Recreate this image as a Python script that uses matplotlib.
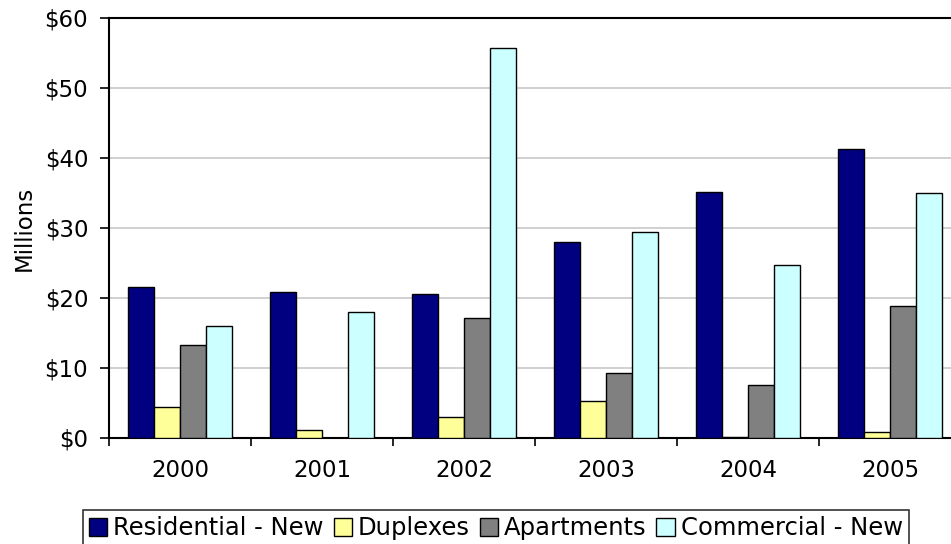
import matplotlib.pyplot as plt
import numpy as np

years = ['2000', '2001', '2002', '2003', '2004', '2005']
residential = [21.6, 20.9, 20.6, 28.0, 35.1, 41.3]
duplexes = [4.4, 1.1, 3.0, 5.3, 0.1, 0.8]
apartments = [13.3, 0.0, 17.1, 9.3, 7.6, 18.9]
commercial = [16.0, 18.0, 55.7, 29.4, 24.7, 35.0]

series = [
    ('Residential - New', residential, '#000080'),
    ('Duplexes', duplexes, '#FFFF99'),
    ('Apartments', apartments, '#808080'),
    ('Commercial - New', commercial, '#CCFFFF'),
]

plt.rcParams['font.family'] = ['DejaVu Sans']
fs = 16.5

fig = plt.figure(figsize=(9.51, 5.44), dpi=100)
# axes run slightly past the right edge, like the cropped original
ax = fig.add_axes([109 / 951, (544 - 438) / 544, (961 - 109) / 951, 420 / 544])

x = np.arange(len(years))
w = 0.183
for i, (name, vals, col) in enumerate(series):
    ax.bar(x + (i - 1.5) * w, vals, w, color=col, edgecolor='black',
           linewidth=1.0, label=name, zorder=3)

ax.set_xlim(-0.5, len(years) - 0.5)
ax.set_ylim(0, 60)
ax.set_yticks(range(0, 61, 10))
ax.set_yticklabels(['$%d' % v for v in range(0, 61, 10)], fontsize=fs)
ax.set_xticks(x)
ax.set_xticklabels(years, fontsize=fs)
ax.tick_params(axis='x', length=0, pad=15)
ax.set_xticks(np.arange(-0.5, len(years), 1), minor=True)
ax.tick_params(axis='x', which='minor', length=6, width=1.2, direction='out')
ax.tick_params(axis='y', length=6.5, width=1.2, direction='out', pad=8.5)
ax.yaxis.grid(True, color='#c8c8c8', linewidth=1.2, zorder=0)
for s in ax.spines.values():
    s.set_linewidth(1.5)
ax.set_ylabel('Millions', fontsize=fs, labelpad=6)

leg = fig.legend(loc='upper left', bbox_to_anchor=(83 / 951, 1 - 510 / 544),
                 ncol=4, fontsize=17.5, frameon=True, fancybox=False,
                 handlelength=0.75, handleheight=0.75, handletextpad=0.25,
                 columnspacing=0.4, borderpad=0.25, borderaxespad=0)
leg.get_frame().set_edgecolor('black')
leg.get_frame().set_linewidth(1.2)

plt.savefig('out.png', dpi=100)
